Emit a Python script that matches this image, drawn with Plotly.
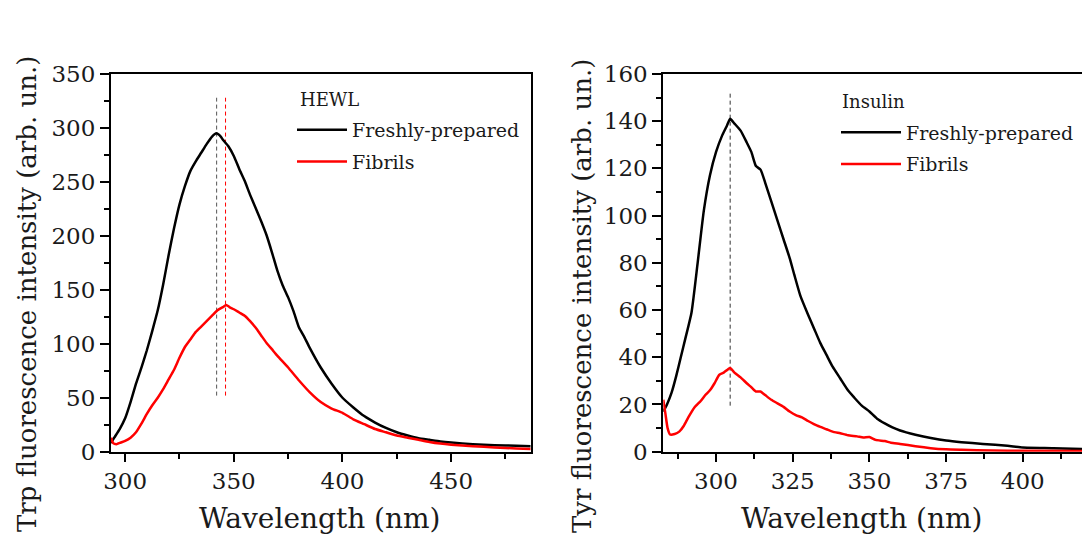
import plotly.graph_objects as go

# ---------------- HEWL (left panel) ----------------
hewl_fresh_wl = [293.5, 295, 297.5, 300, 302.5, 305, 307.5, 310, 312.5, 315, 317.5, 320, 322.5, 325,
                 327.5, 330, 332.5, 335, 337.5, 340, 342, 344, 345, 347.5, 350, 352.5, 355, 357.5, 360,
                 362.5, 365, 367.5, 370, 372.5, 375, 377.5, 380, 382.5, 385, 390, 395, 400, 405, 410,
                 415, 420, 425, 430, 435, 440, 445, 450, 460, 470, 480, 486.6]
hewl_fresh_int = [8, 13, 21, 31, 46, 63, 78, 94, 112, 131, 155, 182, 207, 229,
                  246, 260, 269, 277, 285, 292, 295, 292, 289, 283, 274, 262, 251, 238, 226,
                  214, 201, 185, 168, 154, 143, 130, 115, 106, 96, 78, 63, 50, 41, 33,
                  27, 22, 18, 15, 12.5, 11, 9.5, 8.5, 7, 6, 5.5, 5]

hewl_fib_wl = [293.5, 294.5, 296, 298, 300, 302.5, 305, 307.5, 310, 312.5, 315, 317.5, 320, 322.5,
               325, 327.5, 330, 332.5, 335, 337.5, 340, 342.5, 345, 346.5, 348, 350, 352.5, 355,
               357.5, 360, 362.5, 365, 367.5, 370, 375, 380, 385, 390, 395, 400, 405, 410, 415,
               420, 425, 430, 435, 440, 445, 450, 460, 470, 480, 486.6]
hewl_fib_int = [13, 8, 7, 8.5, 10, 13, 18, 26, 35, 43, 50, 58, 67, 76,
                87, 97, 104, 111, 116, 121, 126, 131, 134, 136, 134, 132, 129, 126,
                121, 115, 108, 101, 95, 89, 78, 66, 55, 46, 40, 36, 30, 25.5, 21,
                18, 15, 13, 11, 9, 7.5, 6.5, 5, 4, 3, 2.5]

hewl_peak_wl = [342.1, 346.2]
hewl_peak_span = [52, 328]

# ---------------- Insulin (right panel) ----------------
ins_fresh_wl = [282.8, 284, 285.5, 287, 288.5, 290, 292, 294, 296, 298, 300, 302, 303.5, 304.6,
                306, 308, 310, 311.5, 313, 314.5, 316, 318, 320, 322, 324, 325.5, 327.5, 330,
                332, 334, 336, 338, 340.5, 343, 345, 347.5, 350, 352.5, 355, 357.5, 360, 362,
                365, 370, 375, 380, 387, 395, 400, 410, 419.3]
ins_fresh_int = [17, 20, 25, 32, 40, 48, 59, 80, 102, 117, 127, 134, 138, 141,
                 139, 136, 131, 127, 121, 119.5, 114, 106, 98, 90, 82, 75, 66, 58,
                 52, 46, 41, 36, 31, 26, 23, 19.5, 17, 14, 12, 10.3, 9, 8.2,
                 7.2, 5.8, 4.7, 4, 3.3, 2.5, 1.8, 1.5, 1.1]

ins_fib_wl = [282.8, 283.5, 284.2, 285, 286.5, 288, 289.5, 291, 293, 295, 296.5, 298, 299.5, 301,
              302.5, 304.6, 306, 308, 310, 311.5, 313, 314.5, 316, 318, 320, 322, 324, 326,
              328, 330, 333, 336, 338, 340.5, 343, 346, 348, 350, 352, 355, 357, 360, 365,
              370, 375, 380, 390, 400, 419.3]
ins_fib_int = [22, 16, 10, 7.3, 7.5, 8.5, 11, 14.6, 18.8, 21.5, 24, 26, 29, 32.5,
               33.5, 35.5, 33.5, 31.5, 29, 27.3, 25.5, 25.5, 24, 22, 20.5, 19, 17, 15.5,
               14.5, 13, 11, 9.5, 8.5, 7.8, 7, 6.5, 6, 6.2, 5, 4.5, 3.8, 3.3, 2.3,
               1.5, 1.0, 0.8, 0.5, 0.4, 0.3]

ins_peak_wl = [304.6]
ins_peak_span = [19.5, 152.5]

x_title = "Wavelength (nm)"
y_titles = ["Trp fluorescence intensity (arb. un.)", "Tyr fluorescence intensity (arb. un.)"]
panel_labels = ["HEWL", "Insulin"]

SERIF = "DejaVu Serif"
INK = "#1a1a1a"
W, H = 1082, 535

fig = go.Figure()

# dashed peak markers
for wl, col in zip(hewl_peak_wl, ["#555555", "#ff0000"]):
    fig.add_trace(go.Scatter(x=[wl, wl], y=hewl_peak_span, mode="lines",
                             line=dict(color=col, width=1, dash="4px,3px"),
                             showlegend=False, hoverinfo="skip", xaxis="x", yaxis="y"))
for wl in ins_peak_wl:
    fig.add_trace(go.Scatter(x=[wl, wl], y=ins_peak_span, mode="lines",
                             line=dict(color="#333333", width=1, dash="4px,3px"),
                             showlegend=False, hoverinfo="skip", xaxis="x2", yaxis="y2"))

curve = dict(width=2.5, shape="spline", smoothing=0.5)
fig.add_trace(go.Scatter(x=hewl_fresh_wl, y=hewl_fresh_int, mode="lines", name="Freshly-prepared",
                         line=dict(color="black", **curve), xaxis="x", yaxis="y",
                         legend="legend", legendgroup="a"))
fig.add_trace(go.Scatter(x=hewl_fib_wl, y=hewl_fib_int, mode="lines", name="Fibrils",
                         line=dict(color="#ff0000", **curve), xaxis="x", yaxis="y",
                         legend="legend", legendgroup="b"))
fig.add_trace(go.Scatter(x=ins_fresh_wl, y=ins_fresh_int, mode="lines", name="Freshly-prepared",
                         line=dict(color="black", **curve), xaxis="x2", yaxis="y2",
                         legend="legend2", legendgroup="c"))
fig.add_trace(go.Scatter(x=ins_fib_wl, y=ins_fib_int, mode="lines", name="Fibrils",
                         line=dict(color="#ff0000", **curve), xaxis="x2", yaxis="y2",
                         legend="legend2", legendgroup="d"))

tickfont = dict(family=SERIF, size=23, color=INK)

def xax(domain, rng, dtick, minor, anchor):
    return dict(domain=domain, range=rng, anchor=anchor, dtick=dtick, tick0=0,
                ticks="outside", ticklen=8, tickwidth=2, tickcolor="black",
                showline=True, linewidth=2, linecolor="black", mirror=True,
                showgrid=False, zeroline=False, tickfont=tickfont, automargin=False,
                minor=dict(dtick=minor, tick0=0, ticks="outside", ticklen=5, tickwidth=2,
                           tickcolor="black", showgrid=False))

def yax(domain, rng, dtick, minor, anchor, mirror):
    return dict(domain=domain, range=rng, anchor=anchor, dtick=dtick, tick0=0,
                ticks="outside", ticklen=9, tickwidth=2, tickcolor="black",
                showline=True, linewidth=2, linecolor="black", mirror=mirror,
                showgrid=False, zeroline=False, tickfont=tickfont, automargin=False,
                minor=dict(dtick=minor, tick0=0, ticks="outside", ticklen=5, tickwidth=2,
                           tickcolor="black", showgrid=False))

ydom = [(H - 451.7) / H, (H - 74) / H]

legend_common = dict(xanchor="left", yanchor="top", bgcolor="rgba(0,0,0,0)",
                     font=dict(family=SERIF, size=19, color=INK), tracegroupgap=4)

annotations = [
    dict(text=y_titles[0], x=27 / W, y=1 - 294 / H, xref="paper", yref="paper",
         textangle=-90, showarrow=False, xanchor="center", yanchor="middle",
         font=dict(family=SERIF, size=26, color=INK)),
    dict(text=y_titles[1], x=582 / W, y=1 - 296 / H, xref="paper", yref="paper",
         textangle=-90, showarrow=False, xanchor="center", yanchor="middle",
         font=dict(family=SERIF, size=26, color=INK)),
    dict(text=x_title, x=320 / W, y=1 - 518.5 / H, xref="paper", yref="paper",
         showarrow=False, xanchor="center", yanchor="middle",
         font=dict(family=SERIF, size=28, color=INK)),
    dict(text=x_title, x=862 / W, y=1 - 518.5 / H, xref="paper", yref="paper",
         showarrow=False, xanchor="center", yanchor="middle",
         font=dict(family=SERIF, size=28, color=INK)),
    dict(text=panel_labels[0], x=298 / W, y=1 - 99 / H, xref="paper", yref="paper",
         showarrow=False, xanchor="left", yanchor="middle",
         font=dict(family=SERIF, size=18, color=INK)),
    dict(text=panel_labels[1], x=840 / W, y=1 - 101 / H, xref="paper", yref="paper",
         showarrow=False, xanchor="left", yanchor="middle",
         font=dict(family=SERIF, size=18, color=INK)),
]

fig.update_layout(
    width=W, height=H,
    margin=dict(l=0, r=0, t=0, b=0, autoexpand=False),
    paper_bgcolor="white", plot_bgcolor="white",
    font=dict(family=SERIF, color=INK),
    xaxis=xax([111 / W, 530.7 / W], [293.5, 486.6], 50, 25, "y"),
    yaxis=yax(ydom, [0, 350], 50, 25, "x", True),
    xaxis2=xax([663.3 / W, 1.0], [282.8, 419.3], 25, 12.5, "y2"),
    yaxis2=yax(ydom, [0, 160], 20, 10, "x2", False),
    legend=dict(x=292 / W, y=1 - 111 / H, itemwidth=50, **legend_common),
    legend2=dict(x=836 / W, y=1 - 113.5 / H, itemwidth=60, **legend_common),
    annotations=annotations,
)

fig.write_html("out.html")
